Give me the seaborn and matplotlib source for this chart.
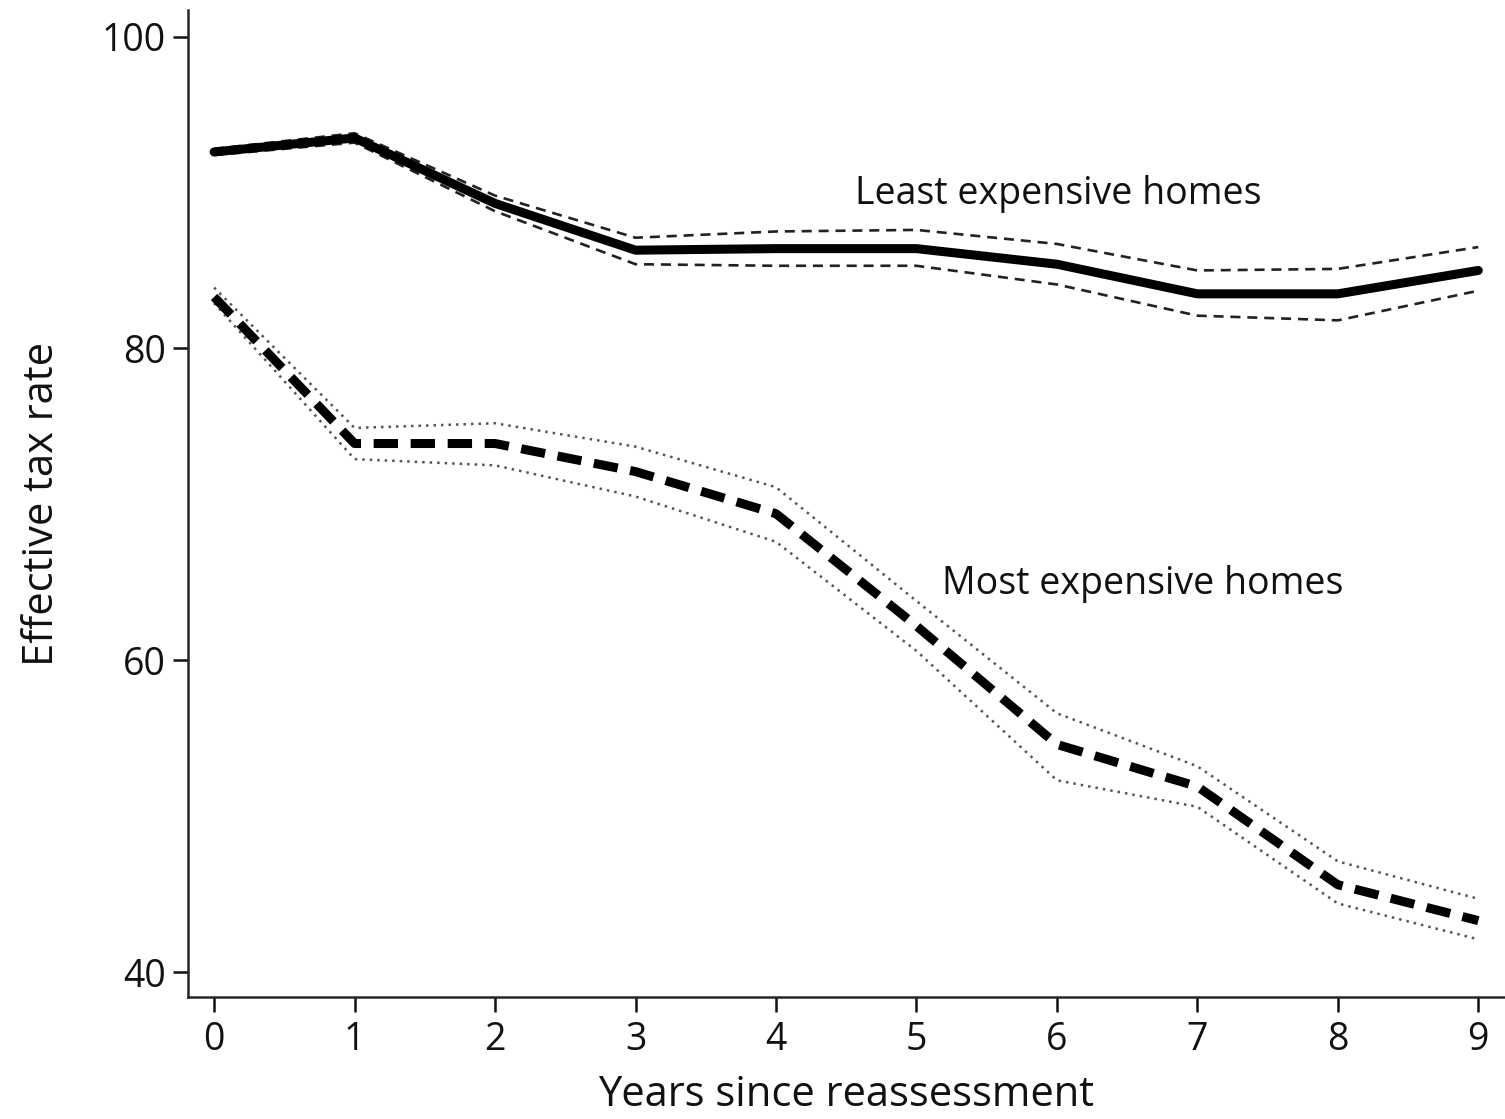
import matplotlib
matplotlib.use("Agg")
import matplotlib.pyplot as plt
import seaborn as sns
import pandas as pd

# Years since the last reassessment
years = [0, 1, 2, 3, 4, 5, 6, 7, 8, 9]

# Least expensive homes: estimate and confidence band
least_est = [92.6, 93.5, 89.3, 86.3, 86.4, 86.4, 85.4, 83.5, 83.5, 85.0]
least_hi = [92.8, 93.8, 89.8, 87.1, 87.5, 87.6, 86.7, 85.0, 85.1, 86.5]
least_lo = [92.4, 93.2, 88.8, 85.4, 85.3, 85.3, 84.1, 82.1, 81.8, 83.7]

# Most expensive homes: estimate and confidence band
most_est = [83.3, 73.9, 73.9, 72.1, 69.4, 62.2, 54.6, 51.9, 45.6, 43.3]
most_hi = [83.9, 74.9, 75.2, 73.7, 71.1, 63.8, 56.6, 53.2, 47.1, 44.7]
most_lo = [82.9, 72.9, 72.5, 70.5, 67.6, 60.6, 52.3, 50.6, 44.4, 42.1]

y_ticks = [40, 60, 80, 100]

sns.set_style("ticks")
plt.rcParams["font.family"] = ["Open Sans", "DejaVu Sans"]
plt.rcParams["axes.linewidth"] = 1.8

TEXT = "#111111"

df = pd.DataFrame({
    "year": years,
    "least_est": least_est, "least_hi": least_hi, "least_lo": least_lo,
    "most_est": most_est, "most_hi": most_hi, "most_lo": most_lo,
})

fig = plt.figure(figsize=(15.05, 11.19), dpi=100)
ax = fig.add_axes([0.125, 0.109, 0.875, 0.882])

# Confidence bands
for col in ["least_hi", "least_lo"]:
    sns.lineplot(data=df, x="year", y=col, ax=ax, color="#222222",
                 linewidth=1.9, linestyle=(0, (3.8, 2.6)))
for col in ["most_hi", "most_lo"]:
    sns.lineplot(data=df, x="year", y=col, ax=ax, color="#555555",
                 linewidth=1.8, linestyle=(0, (1, 2.0)))

# Point estimates
sns.lineplot(data=df, x="year", y="least_est", ax=ax, color="black",
             linewidth=6.5, solid_joinstyle="round", solid_capstyle="round")
sns.lineplot(data=df, x="year", y="most_est", ax=ax, color="black",
             linewidth=6.5, linestyle=(0, (2.7, 1.4)))

ax.text(4.56, 89.9, "Least expensive homes", fontsize=27, color=TEXT,
        ha="left", va="center")
ax.text(5.18, 64.9, "Most expensive homes", fontsize=27, color=TEXT,
        ha="left", va="center")

ax.set_xlim(-0.185, 9.19)
ax.set_ylim(38.4, 101.7)
ax.set_xticks(years)
ax.set_yticks(y_ticks)
ax.tick_params(axis="both", labelsize=27, length=11, width=1.8,
               colors=TEXT)
ax.tick_params(axis="y", pad=5)
ax.tick_params(axis="x", pad=6)
ax.set_xlabel("Years since reassessment", fontsize=30, color=TEXT,
              labelpad=11)
ax.set_ylabel("Effective tax rate", fontsize=30, color=TEXT,
              labelpad=28)
sns.despine(ax=ax, top=True, right=True)

fig.savefig("out.png", dpi=100)
